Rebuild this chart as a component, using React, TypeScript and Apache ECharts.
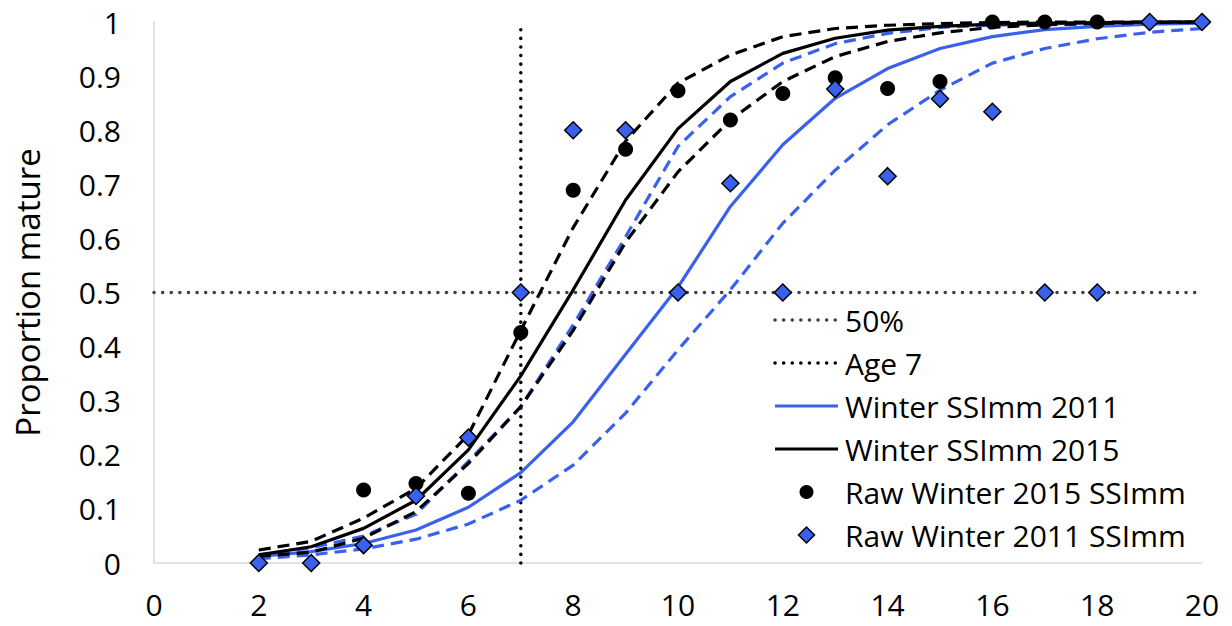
import React, { useEffect, useRef } from "react";
import * as echarts from "echarts";

const ages = [2, 3, 4, 5, 6, 7, 8, 9, 10, 11, 12, 13, 14, 15, 16, 17, 18, 19, 20];

const fit2015 = [0.015, 0.03, 0.064, 0.116, 0.209, 0.346, 0.505, 0.671, 0.803, 0.89, 0.942, 0.97, 0.985, 0.992, 0.996, 0.998, 0.999, 1.0, 1.0];
const upper2015 = [0.024, 0.04, 0.083, 0.138, 0.237, 0.43, 0.62, 0.78, 0.887, 0.939, 0.973, 0.988, 0.994, 0.997, 0.999, 1.0, 1.0, 1.0, 1.0];
const lower2015 = [0.012, 0.02, 0.046, 0.095, 0.184, 0.289, 0.43, 0.593, 0.723, 0.819, 0.89, 0.936, 0.964, 0.98, 0.99, 0.995, 0.997, 0.999, 1.0];

const fit2011 = [0.012, 0.021, 0.036, 0.061, 0.103, 0.167, 0.261, 0.386, 0.51, 0.659, 0.773, 0.859, 0.914, 0.951, 0.973, 0.986, 0.992, 0.996, 0.998];
const upper2011 = [0.015, 0.028, 0.05, 0.09, 0.188, 0.289, 0.44, 0.603, 0.77, 0.862, 0.924, 0.96, 0.979, 0.99, 0.994, 0.997, 0.998, 0.999, 1.0];
const lower2011 = [0.008, 0.015, 0.026, 0.044, 0.072, 0.116, 0.181, 0.277, 0.394, 0.505, 0.628, 0.726, 0.81, 0.874, 0.924, 0.951, 0.969, 0.981, 0.988];

const raw2015Ages = [4, 5, 6, 7, 8, 9, 10, 11, 12, 13, 14, 15, 16, 17, 18];
const raw2015 = [0.135, 0.147, 0.129, 0.426, 0.689, 0.765, 0.873, 0.819, 0.868, 0.897, 0.877, 0.89, 1, 1, 1];

const raw2011Ages = [2, 3, 4, 5, 6, 7, 8, 9, 10, 11, 12, 13, 14, 15, 16, 17, 18, 19, 20];
const raw2011 = [0, 0, 0.033, 0.124, 0.232, 0.5, 0.8, 0.8, 0.5, 0.702, 0.5, 0.876, 0.715, 0.858, 0.834, 0.5, 0.5, 1, 1];

const fiftyLine = [[0, 0.5], [20, 0.5]];
const age7Line = [[7, 0], [7, 1]];

const legendNames = [
  "50%",
  "Age 7",
  "Winter SSImm 2011",
  "Winter SSImm 2015",
  "Raw Winter 2015 SSImm",
  "Raw Winter 2011 SSImm",
];

const BLUE = "#3a61ee";
const FONT = "Open Sans";
const DOT = [0.1, 8.5];
const DASH = [12, 7];

const pair = (xs: number[], ys: number[]) => xs.map((x, i) => [x, ys[i]]);

export default function App() {
  const ref = useRef<HTMLDivElement>(null);
  useEffect(() => {
    if (!ref.current) return;
    const chart = echarts.init(ref.current, null, { renderer: "svg" });
    const dotted = (color: string) => ({ color, width: 3.5, type: DOT, cap: "round" });

    // legend drawn as graphic elements
    const lx0 = 775;
    const lx1 = 838;
    const tx = 845;
    const ly0 = 320;
    const lgap = 43;
    const legendStyles = [
      { kind: "line", stroke: "#404040", dash: DOT, width: 3.5 },
      { kind: "line", stroke: "#000", dash: DOT, width: 3.5 },
      { kind: "line", stroke: BLUE, dash: null, width: 3.2 },
      { kind: "line", stroke: "#000", dash: null, width: 3.2 },
      { kind: "circle" },
      { kind: "diamond" },
    ];
    const graphics: any[] = [];
    legendNames.forEach((name, i) => {
      const y = ly0 + i * lgap;
      const st: any = legendStyles[i];
      if (st.kind === "line") {
        graphics.push({
          type: "line",
          shape: { x1: lx0, y1: y, x2: lx1, y2: y },
          style: {
            stroke: st.stroke,
            lineWidth: st.width,
            lineDash: st.dash || undefined,
            lineCap: st.dash ? "round" : "butt",
          },
        });
      } else if (st.kind === "circle") {
        graphics.push({
          type: "circle",
          shape: { cx: (lx0 + lx1) / 2, cy: y, r: 7 },
          style: { fill: "#000" },
        });
      } else {
        const cx = (lx0 + lx1) / 2;
        graphics.push({
          type: "polygon",
          shape: { points: [[cx, y - 8], [cx + 8, y], [cx, y + 8], [cx - 8, y]] },
          style: { fill: BLUE, stroke: "#000", lineWidth: 1.5 },
        });
      }
      graphics.push({
        type: "text",
        x: tx,
        y,
        style: {
          text: name,
          fill: "#000",
          fontSize: 30,
          fontFamily: FONT,
          verticalAlign: "middle",
          align: "left",
        },
      });
    });

    chart.setOption({
      animation: false,
      backgroundColor: "#ffffff",
      textStyle: { fontFamily: FONT },
      grid: { left: 154, right: 30, top: 22, bottom: 63, containLabel: false },
      xAxis: {
        type: "value",
        min: 0,
        max: 20,
        interval: 2,
        axisLine: { show: true, lineStyle: { color: "#d9d9d9", width: 1.5 } },
        axisTick: { show: false },
        splitLine: { show: false },
        axisLabel: { color: "#000", fontSize: 30, fontFamily: FONT, margin: 26 },
      },
      yAxis: {
        type: "value",
        min: 0,
        max: 1,
        interval: 0.1,
        name: "Proportion mature",
        nameLocation: "middle",
        nameRotate: 90,
        nameGap: 110,
        nameTextStyle: { color: "#000", fontSize: 33, fontFamily: FONT },
        axisLine: { show: true, lineStyle: { color: "#d9d9d9", width: 1.5 } },
        axisTick: { show: false },
        splitLine: { show: false },
        axisLabel: {
          color: "#000",
          fontSize: 30,
          fontFamily: FONT,
          margin: 33,
          formatter: (v: number) => String(Math.round(v * 10) / 10),
        },
      },
      graphic: graphics,
      series: [
        {
          name: "50%",
          type: "line",
          data: fiftyLine,
          symbol: "none",
          clip: false,
          lineStyle: dotted("#404040"),
          z: 1,
        },
        {
          name: "Age 7",
          type: "line",
          data: age7Line,
          symbol: "none",
          clip: false,
          lineStyle: dotted("#000"),
          z: 1,
        },
        {
          name: "Upper 2011",
          type: "line",
          data: pair(ages, upper2011),
          symbol: "none",
          clip: false,
          lineStyle: { color: BLUE, width: 3.2, type: DASH },
          z: 2,
        },
        {
          name: "Lower 2011",
          type: "line",
          data: pair(ages, lower2011),
          symbol: "none",
          clip: false,
          lineStyle: { color: BLUE, width: 3.2, type: DASH },
          z: 2,
        },
        {
          name: "Winter SSImm 2011",
          type: "line",
          data: pair(ages, fit2011),
          symbol: "none",
          clip: false,
          lineStyle: { color: BLUE, width: 3.2, type: "solid" },
          z: 2,
        },
        {
          name: "Upper 2015",
          type: "line",
          data: pair(ages, upper2015),
          symbol: "none",
          clip: false,
          lineStyle: { color: "#000", width: 3.2, type: DASH },
          z: 3,
        },
        {
          name: "Lower 2015",
          type: "line",
          data: pair(ages, lower2015),
          symbol: "none",
          clip: false,
          lineStyle: { color: "#000", width: 3.2, type: DASH },
          z: 3,
        },
        {
          name: "Winter SSImm 2015",
          type: "line",
          data: pair(ages, fit2015),
          symbol: "none",
          clip: false,
          lineStyle: { color: "#000", width: 3.2, type: "solid" },
          z: 3,
        },
        {
          name: "Raw Winter 2015 SSImm",
          type: "scatter",
          data: pair(raw2015Ages, raw2015),
          symbol: "circle",
          symbolSize: 15,
          clip: false,
          itemStyle: { color: "#000", opacity: 1 },
          z: 4,
        },
        {
          name: "Raw Winter 2011 SSImm",
          type: "scatter",
          data: pair(raw2011Ages, raw2011),
          symbol: "diamond",
          symbolSize: 17,
          clip: false,
          itemStyle: { color: BLUE, borderColor: "#000", borderWidth: 1.5, opacity: 1 },
          z: 5,
        },
      ],
    });
    return () => chart.dispose();
  }, []);
  return (
    <div
      ref={ref}
      style={{ position: "fixed", left: 0, top: 0, width: 1232, height: 626 }}
    />
  );
}
